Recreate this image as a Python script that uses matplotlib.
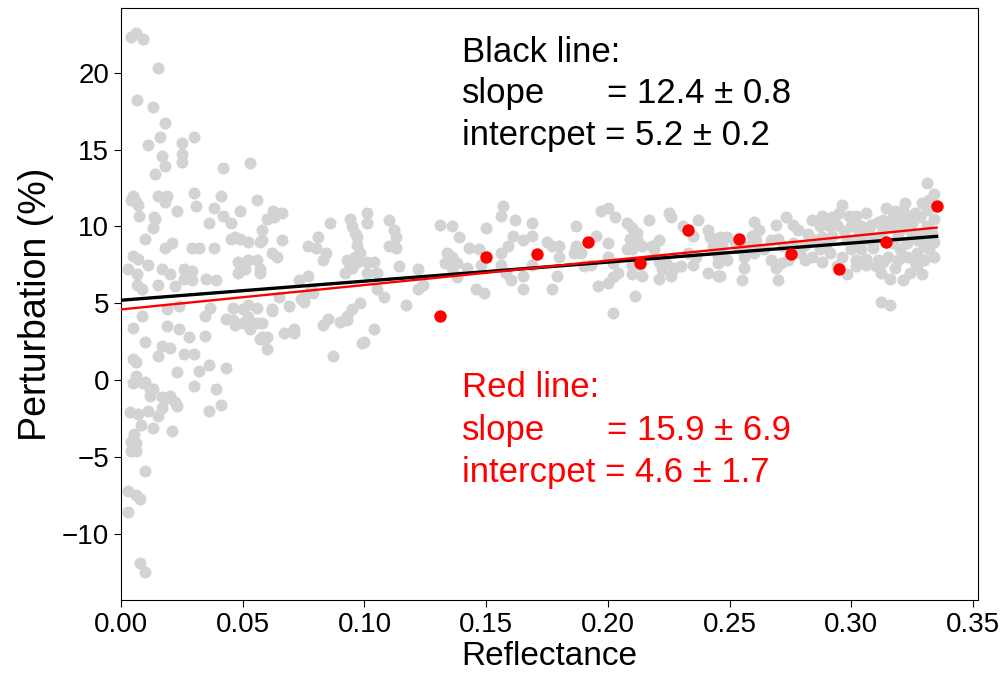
import matplotlib
matplotlib.use("Agg")
import matplotlib.pyplot as plt

plt.rcParams['font.family'] = ['Liberation Sans', 'DejaVu Sans']

gray_pts = [
    (0.004,22.3),(0.006,22.6),(0.009,22.2),(0.015,20.3),(0.0066,18.2),(0.013,17.8),(0.018,16.7),(0.016,15.8),
    (0.011,15.3),(0.025,15.4),(0.030,15.8),(0.017,14.6),(0.025,14.7),(0.025,14.2),(0.018,13.9),(0.042,13.8),
    (0.014,13.4),(0.053,14.1),(0.005,12.0),(0.004,11.7),(0.006,11.6),(0.007,11.4),(0.015,12.0),(0.019,12.0),
    (0.018,11.6),(0.030,12.2),(0.041,12.0),(0.023,11.0),(0.0074,10.7),(0.0136,10.6),(0.031,11.3),(0.038,11.2),
    (0.042,10.7),(0.049,11.0),(0.056,11.7),(0.014,10.5),(0.036,10.2),(0.045,10.2),(0.013,9.9),(0.010,9.2),
    (0.018,8.6),(0.021,8.9),(0.029,8.6),(0.032,8.6),(0.038,8.6),(0.045,9.2),(0.049,9.2),(0.005,8.1),(0.007,7.9),
    (0.011,7.5),(0.003,7.2),(0.0066,6.9),(0.017,7.2),(0.020,6.9),(0.026,7.2),(0.029,7.1),(0.026,6.6),(0.029,6.5),
    (0.022,6.1),(0.015,6.2),(0.0066,6.2),(0.0086,5.9),(0.035,6.6),(0.039,6.5),(0.048,7.0),(0.048,7.7),
    (0.019,4.6),(0.0086,4.2),(0.024,4.8),(0.0345,4.2),(0.0366,4.7),(0.043,4.0),(0.047,3.6),(0.005,3.4),
    (0.019,3.5),(0.024,3.3),(0.028,2.8),(0.0345,2.9),(0.010,2.5),(0.017,2.2),(0.020,2.1),(0.015,1.6),
    (0.026,1.7),(0.030,1.7),(0.005,1.4),(0.006,1.2),(0.023,0.5),(0.032,0.6),(0.036,1.0),(0.043,0.8),
    (0.006,0.3),(0.005,-0.2),(0.010,-0.1),(0.030,-0.4),(0.039,-0.6),(0.013,-0.6),(0.017,-1.1),(0.009,-0.2),
    (0.012,-0.6),(0.012,-1.0),(0.018,-1.2),(0.020,-1.0),(0.022,-1.4),(0.023,-1.7),(0.017,-1.8),(0.015,-2.3),
    (0.041,-1.6),(0.036,-2.0),(0.0037,-2.1),(0.007,-2.2),(0.011,-2.0),(0.0082,-2.9),(0.013,-3.1),(0.021,-3.3),
    (0.0053,-3.5),(0.004,-4.0),(0.006,-4.1),(0.004,-4.6),(0.006,-4.6),(0.010,-5.9),(0.003,-7.2),(0.006,-7.5),
    (0.008,-7.7),(0.003,-8.6),(0.008,-11.9),(0.010,-12.5),
    (0.047,9.3),(0.052,9.0),(0.057,9.0),(0.052,7.8),(0.056,7.8),(0.062,8.3),(0.064,8.0),(0.051,7.2),
    (0.057,7.2),(0.073,6.5),(0.077,6.8),(0.075,5.4),(0.079,5.7),(0.065,5.4),(0.069,4.8),(0.046,4.7),
    (0.050,4.6),(0.052,4.9),(0.056,4.7),(0.062,4.5),(0.046,3.9),(0.050,3.7),(0.053,3.5),(0.058,3.7),
    (0.058,2.8),(0.060,2.8),(0.067,3.1),(0.071,3.1),(0.060,2.0),(0.085,4.0),(0.083,3.6),(0.090,3.8),
    (0.093,3.9),(0.095,4.6),(0.098,5.0),(0.099,2.4),(0.087,1.6),
    (0.0625,11.0),(0.066,10.9),(0.063,10.6),(0.060,10.5),(0.058,9.8),(0.058,9.1),(0.066,9.1),(0.050,7.4),
    (0.057,7.0),(0.086,10.2),(0.081,9.3),(0.077,8.7),(0.080,8.6),(0.084,8.3),(0.083,7.8),(0.101,10.9),
    (0.094,10.5),(0.095,10.0),(0.101,10.2),(0.096,9.6),(0.097,9.3),(0.097,8.8),(0.098,8.3),(0.096,8.0),
    (0.097,7.7),(0.095,7.3),(0.093,7.8),(0.101,7.7),(0.104,7.7),(0.110,10.4),(0.112,9.8),(0.113,9.3),
    (0.110,8.7),(0.113,8.6),(0.114,7.4),(0.122,7.2),(0.131,10.1),(0.136,10.0),(0.139,9.3),(0.143,8.6),
    (0.147,8.5),(0.150,9.9),(0.134,8.3),(0.136,8.0),(0.133,7.6),(0.138,7.6),(0.138,6.8),(0.146,5.9),
    (0.149,5.7),(0.122,5.9),(0.124,6.2),(0.117,4.9),(0.105,5.9),(0.108,5.4),(0.093,4.2),(0.104,3.3),
    (0.100,2.5),(0.092,7.0),(0.094,7.4),(0.078,5.9),(0.074,5.3),(0.075,5.1),(0.071,3.3),(0.057,2.7),
    (0.059,2.7),(0.062,4.6),(0.052,4.1),(0.056,3.7),(0.053,3.3),(0.101,7.0),(0.105,7.0),(0.136,7.3),
    (0.138,6.7),(0.142,7.3),
    (0.157,11.3),(0.156,10.7),(0.162,10.4),(0.169,10.2),(0.161,9.4),(0.165,9.1),(0.169,9.4),(0.159,8.7),
    (0.156,8.3),(0.175,9.0),(0.177,8.7),(0.180,8.7),(0.180,8.0),(0.156,7.5),(0.158,7.0),(0.160,6.5),
    (0.165,6.8),(0.169,7.5),(0.179,6.8),(0.165,5.9),(0.177,5.9),(0.148,7.5),(0.187,10.0),(0.187,8.7),
    (0.186,8.3),(0.189,8.3),(0.197,11.0),(0.200,11.2),(0.203,10.6),(0.195,9.4),(0.200,8.9),(0.190,7.4),
    (0.193,7.5),(0.200,8.0),(0.202,7.6),(0.204,7.0),(0.202,6.7),(0.196,6.1),(0.200,6.3),(0.211,5.5),
    (0.202,4.4),(0.208,10.2),(0.210,9.9),(0.212,9.6),(0.209,9.2),(0.212,9.1),(0.208,8.5),(0.210,8.5),
    (0.217,10.4),(0.214,8.7),(0.218,8.7),(0.221,9.1),(0.219,8.5),(0.210,7.5),(0.213,7.5),(0.210,6.9),
    (0.214,6.8),(0.221,7.7),(0.224,7.6),(0.222,7.2),(0.227,7.3),(0.230,7.4),(0.221,6.6),(0.226,6.8),
    (0.225,10.9),(0.226,10.6),(0.231,10.0),(0.235,9.4),(0.237,10.4),(0.241,9.8),(0.242,9.3),(0.246,9.3),
    (0.243,8.7),(0.247,8.7),(0.245,8.0),(0.245,7.6),(0.233,8.3),(0.236,8.0),(0.235,7.5),(0.241,7.0),
    (0.245,6.8),
    (0.249,9.3),(0.260,10.3),(0.262,9.8),(0.259,9.4),(0.261,9.1),(0.257,8.7),(0.260,8.3),(0.261,8.7),
    (0.269,10.1),(0.273,10.6),(0.276,10.1),(0.267,9.1),(0.270,9.2),(0.272,8.7),(0.256,8.0),(0.256,7.3),
    (0.249,7.8),(0.246,6.8),(0.255,6.5),(0.267,7.8),(0.269,7.3),(0.271,7.6),(0.274,7.8),(0.270,6.5),
    (0.281,7.8),(0.279,8.3),(0.284,10.4),(0.288,10.7),(0.292,10.6),(0.295,10.9),(0.296,11.4),(0.287,10.0),
    (0.291,10.0),(0.294,10.1),(0.288,9.3),(0.292,9.4),(0.285,9.1),(0.290,8.9),(0.287,8.5),(0.284,8.0),
    (0.288,7.7),(0.291,8.3),(0.299,10.7),(0.302,10.7),(0.306,10.9),(0.300,10.0),(0.304,10.0),(0.308,10.1),
    (0.311,10.3),(0.298,9.1),(0.302,9.1),(0.306,9.2),(0.311,9.3),(0.300,8.5),(0.304,8.5),(0.309,8.6),
    (0.302,7.8),(0.306,7.9),(0.311,7.8),(0.314,11.2),(0.313,10.4),(0.317,10.6),(0.321,11.1),(0.323,10.7),
    (0.317,8.9),(0.320,8.5),(0.323,8.9),(0.327,9.1),(0.329,9.6),(0.331,10.0),(0.328,10.6),(0.331,11.1),
    (0.333,11.3),(0.332,11.7),(0.334,12.1),(0.331,12.8),(0.315,8.0),(0.319,7.8),(0.323,8.0),(0.327,8.3),
    (0.330,8.7),(0.332,9.1),(0.333,9.6),(0.312,7.0),(0.316,6.6),(0.321,6.5),(0.324,7.0),(0.327,7.4),
    (0.330,7.8),(0.332,8.5),(0.312,5.1),(0.316,4.9),(0.302,7.4),(0.306,7.5),(0.310,7.4),
    (0.289,10.4),(0.297,9.7),(0.303,9.6),(0.307,9.7),(0.313,9.8),(0.317,9.9),(0.321,9.9),(0.325,10.2),
    (0.319,9.4),(0.325,9.5),(0.314,9.0),(0.309,9.0),(0.316,10.2),(0.320,10.5),(0.326,10.9),(0.329,11.5),
    (0.322,11.5),(0.318,11.0),(0.334,10.5),(0.334,9.0),(0.334,8.0),(0.326,7.7),(0.318,7.3),(0.313,7.7),
    (0.296,8.0),(0.294,7.4),(0.298,6.9),(0.282,9.5),(0.278,9.8),(0.276,8.9),(0.281,8.8),(0.264,8.5),
    (0.252,9.0),(0.254,8.6),(0.329,6.9),
]
gray_x = [p[0] for p in gray_pts]
gray_y = [p[1] for p in gray_pts]

red_x = [0.131, 0.150, 0.171, 0.192, 0.213, 0.233, 0.254, 0.275, 0.295, 0.314, 0.335]
red_y = [4.2, 8.0, 8.2, 9.0, 7.6, 9.8, 9.2, 8.2, 7.2, 9.0, 11.3]

black_slope, black_intercept = 12.4, 5.2
red_slope, red_intercept = 15.9, 4.6
line_x = [0.0, 0.335]

fig = plt.figure(figsize=(10.06, 6.81), dpi=100)
ax = fig.add_axes([0.1203, 0.119, 0.8519, 0.869])

ax.scatter(gray_x, gray_y, s=75, color='#d3d3d3', linewidths=0, zorder=1)
ax.plot(line_x, [black_intercept + black_slope * v for v in line_x], color='black', lw=2.4, zorder=2)
ax.plot(line_x, [red_intercept + red_slope * v for v in line_x], color='red', lw=1.7, zorder=3)
ax.scatter(red_x, red_y, s=80, color='red', linewidths=0, zorder=4)

ax.set_xlim(0, 0.352)
ax.set_ylim(-14.3, 24.2)
ax.set_xticks([0.0, 0.05, 0.10, 0.15, 0.20, 0.25, 0.30, 0.35])
ax.set_xticklabels(['0.00', '0.05', '0.10', '0.15', '0.20', '0.25', '0.30', '0.35'])
ax.set_yticks([-10, -5, 0, 5, 10, 15, 20])
ax.tick_params(labelsize=20, length=5)
ax.set_xlabel('Reflectance', fontsize=24, labelpad=2)
ax.set_ylabel('Perturbation (%)', fontsize=27, labelpad=6)

fs = 25
tx = 0.140
ex = 0.1995
ax.text(tx, 20.7, 'Black line:', fontsize=fs, color='black')
ax.text(tx, 18.0, 'slope', fontsize=fs, color='black')
ax.text(ex, 18.0, '= 12.4 \u00b1 0.8', fontsize=fs, color='black')
ax.text(tx, 15.3, 'intercpet = 5.2 \u00b1 0.2', fontsize=fs, color='black')
ax.text(tx, -1.1, 'Red line:', fontsize=fs, color='red')
ax.text(tx, -3.9, 'slope', fontsize=fs, color='red')
ax.text(ex, -3.9, '= 15.9 \u00b1 6.9', fontsize=fs, color='red')
ax.text(tx, -6.6, 'intercpet = 4.6 \u00b1 1.7', fontsize=fs, color='red')

fig.savefig('out.png', dpi=100)
